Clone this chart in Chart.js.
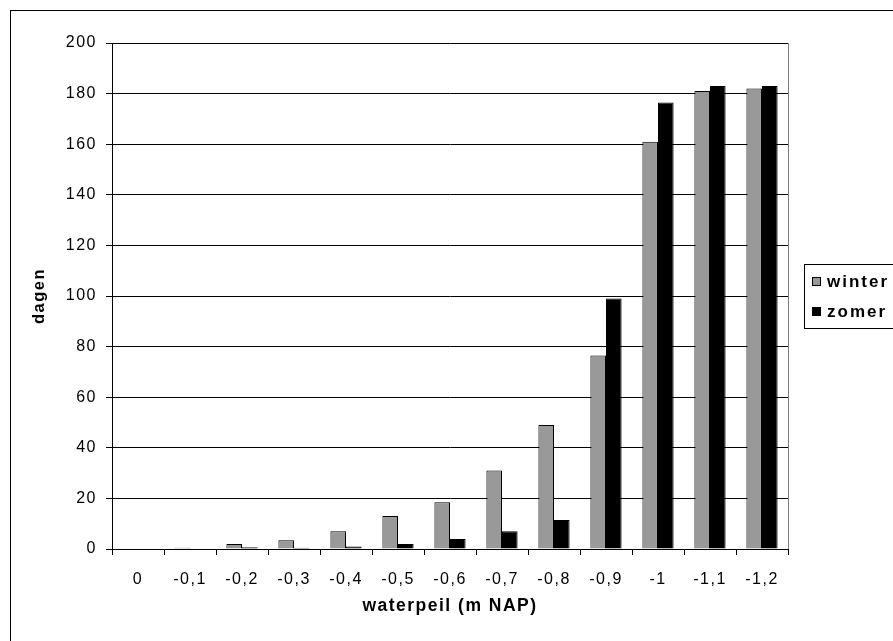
<!DOCTYPE html>
<html>
<head>
<meta charset="utf-8">
<script src="https://cdn.jsdelivr.net/npm/chart.js@4/dist/chart.umd.min.js"></script>
<style>
  html, body { margin: 0; padding: 0; background: #ffffff; }
  #wrap { width: 893px; height: 641px; }
</style>
</head>
<body>
<div id="wrap"><canvas id="c" width="893" height="641"></canvas></div>
<script>
const categories = ['0', '-0,1', '-0,2', '-0,3', '-0,4', '-0,5', '-0,6', '-0,7', '-0,8', '-0,9', '-1', '-1,1', '-1,2'];
const winter = [0, 0.5, 2, 3.5, 7, 13, 18.5, 31, 49, 76.5, 161, 181, 182];
const zomer = [0, 0, 0.7, 0.5, 1, 2, 4, 7, 11.5, 99, 176.5, 183, 183];
const yTicks = [0, 20, 40, 60, 80, 100, 120, 140, 160, 180, 200];
const xTitle = 'waterpeil (m NAP)';
const yTitle = 'dagen';

const FONT = '"Liberation Sans", Arial, sans-serif';

const spacingPlugin = {
  id: 'spacing',
  beforeLayout(chart) { chart.ctx.letterSpacing = '1.5px'; },
  beforeDraw(chart) { chart.ctx.letterSpacing = '1.5px'; }
};

const framePlugin = {
  id: 'frame',
  beforeDraw(chart) {
    const ctx = chart.ctx;
    ctx.save();
    ctx.fillStyle = '#ffffff';
    ctx.fillRect(0, 0, chart.width, chart.height);
    ctx.strokeStyle = '#000000';
    ctx.lineWidth = 1;
    ctx.strokeRect(10.5, 10.5, chart.width + 50, chart.height + 50);
    ctx.restore();
  },
  beforeDatasetsDraw(chart) {
    const ctx = chart.ctx;
    const a = chart.chartArea;
    ctx.save();
    ctx.strokeStyle = '#808080';
    ctx.lineWidth = 1;
    ctx.beginPath();
    ctx.moveTo(Math.round(a.right) + 0.5, a.top);
    ctx.lineTo(Math.round(a.right) + 0.5, a.bottom);
    ctx.stroke();
    ctx.restore();
  }
};

const legendPlugin = {
  id: 'boxLegend',
  afterDraw(chart) {
    const ctx = chart.ctx;
    ctx.save();
    ctx.strokeStyle = '#000000';
    ctx.lineWidth = 1;
    ctx.strokeRect(804.5, 264.5, 200, 64);
    ctx.font = 'bold 17px ' + FONT;
    ctx.letterSpacing = '2px';
    ctx.textBaseline = 'alphabetic';
    ctx.textAlign = 'left';
    chart.data.datasets.forEach((ds, i) => {
      const y = 277 + i * 30;
      ctx.fillStyle = ds.backgroundColor;
      ctx.fillRect(812, y, 9, 9);
      ctx.strokeStyle = '#000000';
      ctx.strokeRect(812.5, y + 0.5, 8, 8);
      ctx.fillStyle = '#000000';
      ctx.fillText(ds.label, 827, y + 9.5);
    });
    ctx.restore();
  }
};

new Chart(document.getElementById('c'), {
  type: 'bar',
  data: {
    labels: categories,
    datasets: [
      { label: 'winter', data: winter, backgroundColor: '#999999', borderColor: '#000000', borderWidth: 1 },
      { label: 'zomer', data: zomer, backgroundColor: '#000000', borderColor: '#000000', borderWidth: 1 }
    ]
  },
  options: {
    responsive: false,
    animation: false,
    devicePixelRatio: 1,
    layout: { padding: { left: 0, right: 105, top: 43, bottom: 0 } },
    datasets: { bar: { categoryPercentage: 0.6, barPercentage: 1.0 } },
    plugins: {
      legend: { display: false },
      tooltip: { enabled: false }
    },
    scales: {
      x: {
        type: 'category',
        offset: true,
        grid: { display: true, offset: true, drawOnChartArea: false, drawTicks: true, tickLength: 6, color: '#000000', lineWidth: 1 },
        border: { display: true, color: '#000000', width: 1 },
        ticks: { color: '#000000', font: { family: FONT, size: 16 }, padding: 15, maxRotation: 0, autoSkip: false },
        title: { display: true, text: xTitle, color: '#000000', font: { family: FONT, size: 17.5, weight: 'bold' }, padding: { top: 0, bottom: 24 } },
        afterFit(scale) { scale.height = 92; }
      },
      y: {
        min: 0,
        max: 200,
        afterBuildTicks(scale) { scale.ticks = yTicks.map(v => ({ value: v })); },
        grid: { color: '#000000', lineWidth: 1, drawTicks: true, tickLength: 6 },
        border: { display: true, color: '#000000', width: 1 },
        ticks: { color: '#000000', font: { family: FONT, size: 16 }, padding: 9 },
        title: { display: true, text: yTitle, color: '#000000', font: { family: FONT, size: 16.5, weight: 'bold' }, padding: { top: 30, bottom: 0 } },
        afterFit(scale) { scale.width = 112; }
      }
    }
  },
  plugins: [spacingPlugin, framePlugin, legendPlugin]
});
</script>
</body>
</html>
